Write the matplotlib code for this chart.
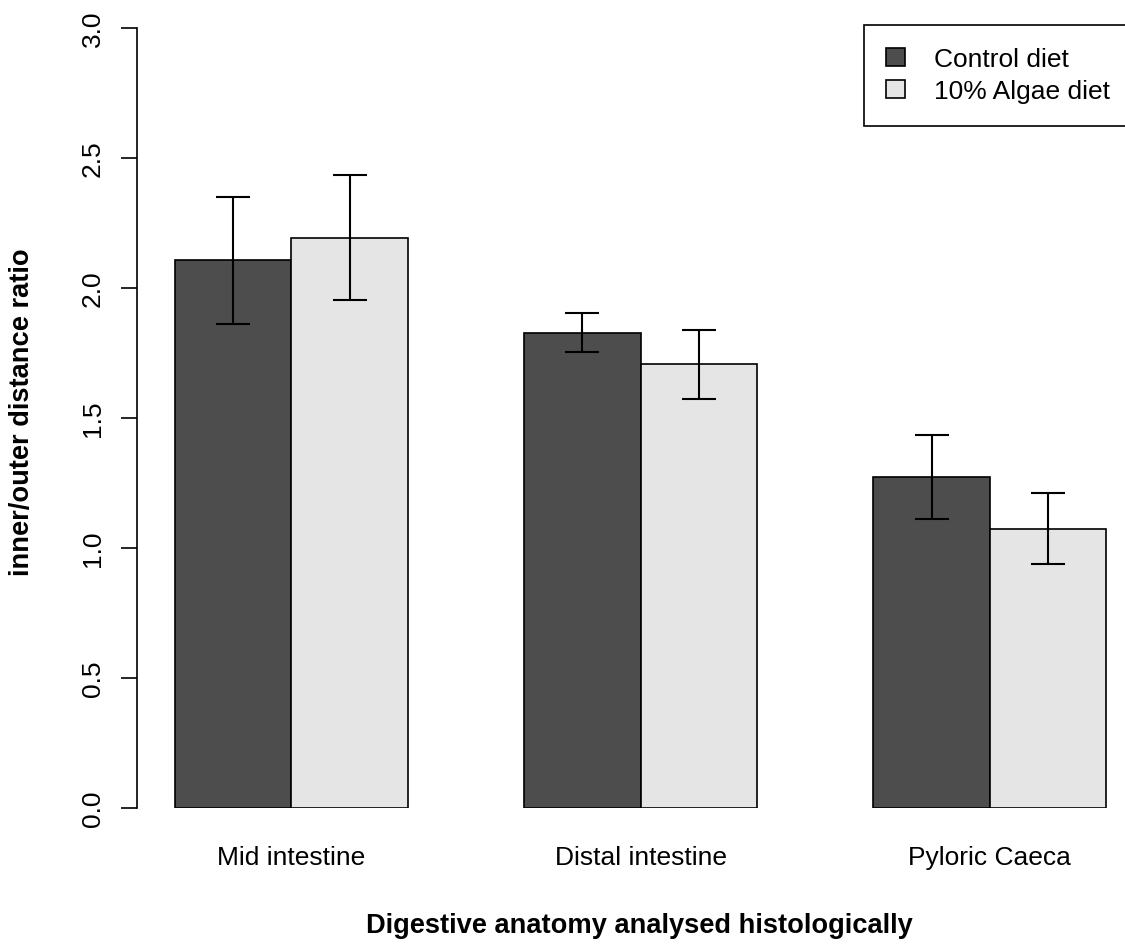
import matplotlib
matplotlib.use("Agg")
import matplotlib.pyplot as plt
import numpy as np

plt.rcParams['font.family'] = ['Liberation Sans', 'DejaVu Sans']

# data
sites = ["Mid intestine", "Distal intestine", "Pyloric Caeca"]
diets = ["Control diet", "10% Algae diet"]
control_mean = [2.107, 1.827, 1.273]
algae_mean = [2.194, 1.706, 1.075]
control_se = [0.244, 0.075, 0.162]
algae_se = [0.240, 0.131, 0.138]
colours = ["#4D4D4D", "#E5E5E5"]

fig = plt.figure(figsize=(11.25, 9.45), dpi=100)
W, H = 1125, 945
# plot region in pixels: y axis at x=137, y=0 at 809, y=3 at 29
ax = fig.add_axes([137 / W, (H - 809) / H, (W - 137) / W, 780 / H])

# R barplot positions (beside=TRUE, space=c(0,1))
group_left = np.array([1.0, 4.0, 7.0])
x_ctrl = group_left + 0.5
x_alg = group_left + 1.5

ax.bar(x_ctrl, control_mean, width=1.0, color=colours[0], edgecolor="black",
       linewidth=1.2, label=diets[0])
ax.bar(x_alg, algae_mean, width=1.0, color=colours[1], edgecolor="black",
       linewidth=1.2, label=diets[1])
ax.errorbar(x_ctrl, control_mean, yerr=control_se, fmt="none", ecolor="black",
            elinewidth=1.5, capsize=12, capthick=1.5)
ax.errorbar(x_alg, algae_mean, yerr=algae_se, fmt="none", ecolor="black",
            elinewidth=1.5, capsize=12, capthick=1.5)

unit = 116.4
ax.set_xlim((137 - 175) / unit + 1, (W - 175) / unit + 1)
ax.set_ylim(0, 3)

for s in ["top", "right", "bottom"]:
    ax.spines[s].set_visible(False)
ax.spines["left"].set_linewidth(1.2)

ax.set_yticks([0, 0.5, 1.0, 1.5, 2.0, 2.5, 3.0])
ax.set_yticklabels(["0.0", "0.5", "1.0", "1.5", "2.0", "2.5", "3.0"],
                   rotation=90, va="center", fontsize=19)
ax.tick_params(axis="y", length=11.5, width=1.2, pad=11.5)

ax.set_xticks(group_left + 1.0)
ax.set_xticklabels(sites, fontsize=19)
ax.tick_params(axis="x", length=0, pad=27)

fig.text(22 / W, 1 - 412 / H, "inner/outer distance ratio", rotation=90,
         ha="center", va="center", fontsize=19.6, fontweight="bold")
fig.text(639 / W, 1 - 926 / H, "Digestive anatomy analysed histologically",
         ha="center", va="center", fontsize=19.6, fontweight="bold")

leg = ax.legend(loc="upper left", bbox_to_anchor=(864 / W, 1 - 26 / H),
                bbox_transform=fig.transFigure, fontsize=19, frameon=True,
                fancybox=False, edgecolor="black", framealpha=1,
                borderpad=0.85, handlelength=0.7, handleheight=0.7,
                handletextpad=1.1, labelspacing=0.3, borderaxespad=0)
leg.get_frame().set_linewidth(1.2)

fig.savefig("out.png", dpi=100)
